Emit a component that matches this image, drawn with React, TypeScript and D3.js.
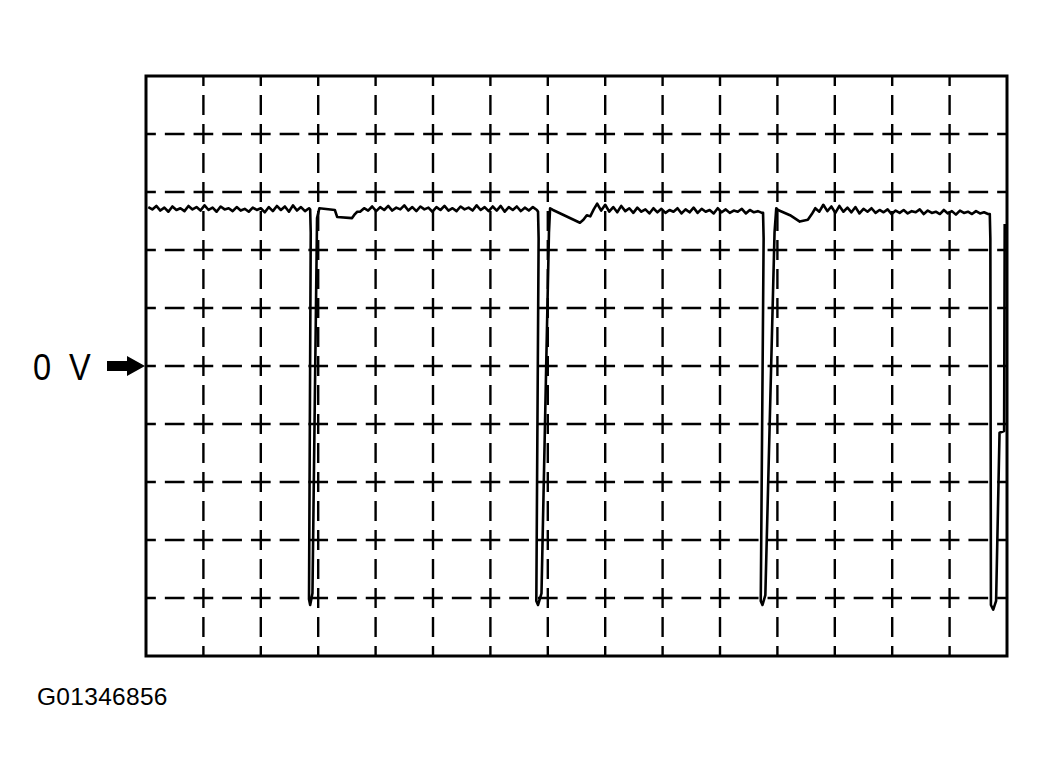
import React from "react";
import * as d3 from "d3";

// Oscilloscope screen: 15 horizontal divisions, 10 vertical divisions (0 V at centre)
const xDivs = d3.range(1, 15);
const yDivs = d3.range(-4, 5);

// Sampled high-level ripple segments (volts in divisions), sample step 0.07 div
const STEP = 0.07;
const segA = { start: 0.04, values: [2.74,2.70,2.76,2.68,2.73,2.66,2.75,2.69,2.72,2.67,2.76,2.70,2.74,2.68,2.77,2.69,2.73,2.66,2.75,2.70,2.72,2.67,2.74,2.68,2.71,2.66,2.73,2.69,2.72,2.65,2.74,2.67,2.76,2.69,2.75,2.66,2.77,2.68,2.74,2.67,2.72] };
const segB = { start: 3.73, values: [2.66,2.72,2.68,2.75,2.67,2.74,2.69,2.76,2.68,2.73,2.70,2.77,2.68,2.74,2.67,2.75,2.70,2.73,2.66,2.74,2.69,2.76,2.68,2.72,2.67,2.75,2.70,2.73,2.68,2.77,2.69,2.74,2.67,2.75,2.68,2.76,2.66,2.74,2.69,2.75,2.67,2.73,2.68,2.74,2.69] };
const segC = { start: 7.86, values: [2.80,2.68,2.78,2.66,2.74,2.65,2.76,2.67,2.72,2.64,2.73,2.66,2.70,2.63,2.72,2.65,2.71,2.64,2.69,2.66,2.72,2.63,2.70,2.65,2.73,2.64,2.71,2.66,2.69,2.63,2.72,2.65,2.70,2.64,2.68,2.66,2.71,2.63,2.69,2.65,2.67,2.64] };
const segD = { start: 11.66, values: [2.72,2.66,2.78,2.67,2.75,2.64,2.76,2.66,2.73,2.65,2.74,2.63,2.71,2.66,2.72,2.64,2.69,2.65,2.70,2.62,2.68,2.64,2.69,2.63,2.67,2.65,2.70,2.62,2.68,2.64,2.66,2.62,2.69,2.63,2.67,2.61,2.68,2.64,2.66,2.62,2.67,2.63,2.65,2.62] };

// Pulse transitions (time div, volts div)
const pulse1: [number, number][] = [[2.86,2.70],[2.87,2.30],[2.84,-4.02],[2.86,-4.12],[2.90,-3.92],[2.98,2.55],[3.02,2.72],[3.29,2.69],[3.33,2.57],[3.59,2.55],[3.64,2.62],[3.68,2.66]];
const pulse2: [number, number][] = [[6.83,2.66],[6.84,2.20],[6.80,-4.05],[6.83,-4.12],[6.89,-3.92],[7.02,2.30],[7.04,2.72],[7.09,2.69],[7.56,2.47],[7.62,2.52],[7.68,2.60],[7.74,2.58],[7.80,2.70]];
const pulse3: [number, number][] = [[10.75,2.64],[10.76,2.20],[10.71,-4.05],[10.74,-4.12],[10.79,-3.95],[10.95,2.30],[10.98,2.72],[11.01,2.69],[11.22,2.60],[11.39,2.49],[11.53,2.52],[11.60,2.62]];
const pulse4: [number, number][] = [[14.70,2.62],[14.71,2.20],[14.72,-4.12],[14.76,-4.20],[14.81,-4.05],[14.87,-1.15],[14.95,-1.12],[14.96,2.45]];

const zeroLabel = "0 V";
const figureId = "G01346856";

function segPoints(seg: { start: number; values: number[] }): [number, number][] {
  return seg.values.map((v, i) => [seg.start + i * STEP, v]);
}

export default function App() {
  const left = 146, right = 1007, top = 76, bottom = 656;
  const x = d3.scaleLinear().domain([0, 15]).range([left, right]);
  const y = d3.scaleLinear().domain([-5, 5]).range([bottom, top]);

  const trace: [number, number][] = [
    ...segPoints(segA), ...pulse1,
    ...segPoints(segB), ...pulse2,
    ...segPoints(segC), ...pulse3,
    ...segPoints(segD), ...pulse4,
  ];
  const line = d3.line<[number, number]>().x(d => x(d[0])).y(d => y(d[1]));

  const hDiv = (right - left) / 15;
  const vDiv = (bottom - top) / 10;
  const hDash = hDiv / 2 - 9;
  const vDash = vDiv / 2 - 9;

  const y0 = y(0);

  return (
    <svg width={1049} height={782} style={{ position: "absolute", left: 0, top: 0, background: "#fff" }}>
      <rect x={0} y={0} width={1049} height={782} fill="#fff" />
      {yDivs.map(v => (
        <line key={"h" + v} x1={left} x2={right} y1={y(v)} y2={y(v)} stroke="#000" strokeWidth={2.4}
          strokeDasharray={`${hDash} 9`} strokeDashoffset={hDash / 2} />
      ))}
      {xDivs.map(t => (
        <line key={"v" + t} x1={x(t)} x2={x(t)} y1={top} y2={bottom} stroke="#000" strokeWidth={2.4}
          strokeDasharray={`${vDash} 9`} strokeDashoffset={vDash / 2} />
      ))}
      <rect x={left} y={top} width={right - left} height={bottom - top} fill="none" stroke="#000" strokeWidth={3} />
      <path d={line(trace) || ""} fill="none" stroke="#000" strokeWidth={2.6} strokeLinejoin="round" />
      <text x={0} y={0} transform={`translate(33,${y0 + 14}) scale(0.88,1)`} fontFamily="'Liberation Sans', Arial, sans-serif" fontSize={37} letterSpacing={5} fill="#000">{zeroLabel}</text>
      <path d={`M107,${y0 - 5} L127,${y0 - 5} L127,${y0 - 10} L145,${y0} L127,${y0 + 10} L127,${y0 + 5} L107,${y0 + 5} Z`} fill="#000" />
      <text x={37} y={705} fontFamily="'Liberation Sans', Arial, sans-serif" fontSize={24.5} letterSpacing={0.3} fill="#000">{figureId}</text>
    </svg>
  );
}
